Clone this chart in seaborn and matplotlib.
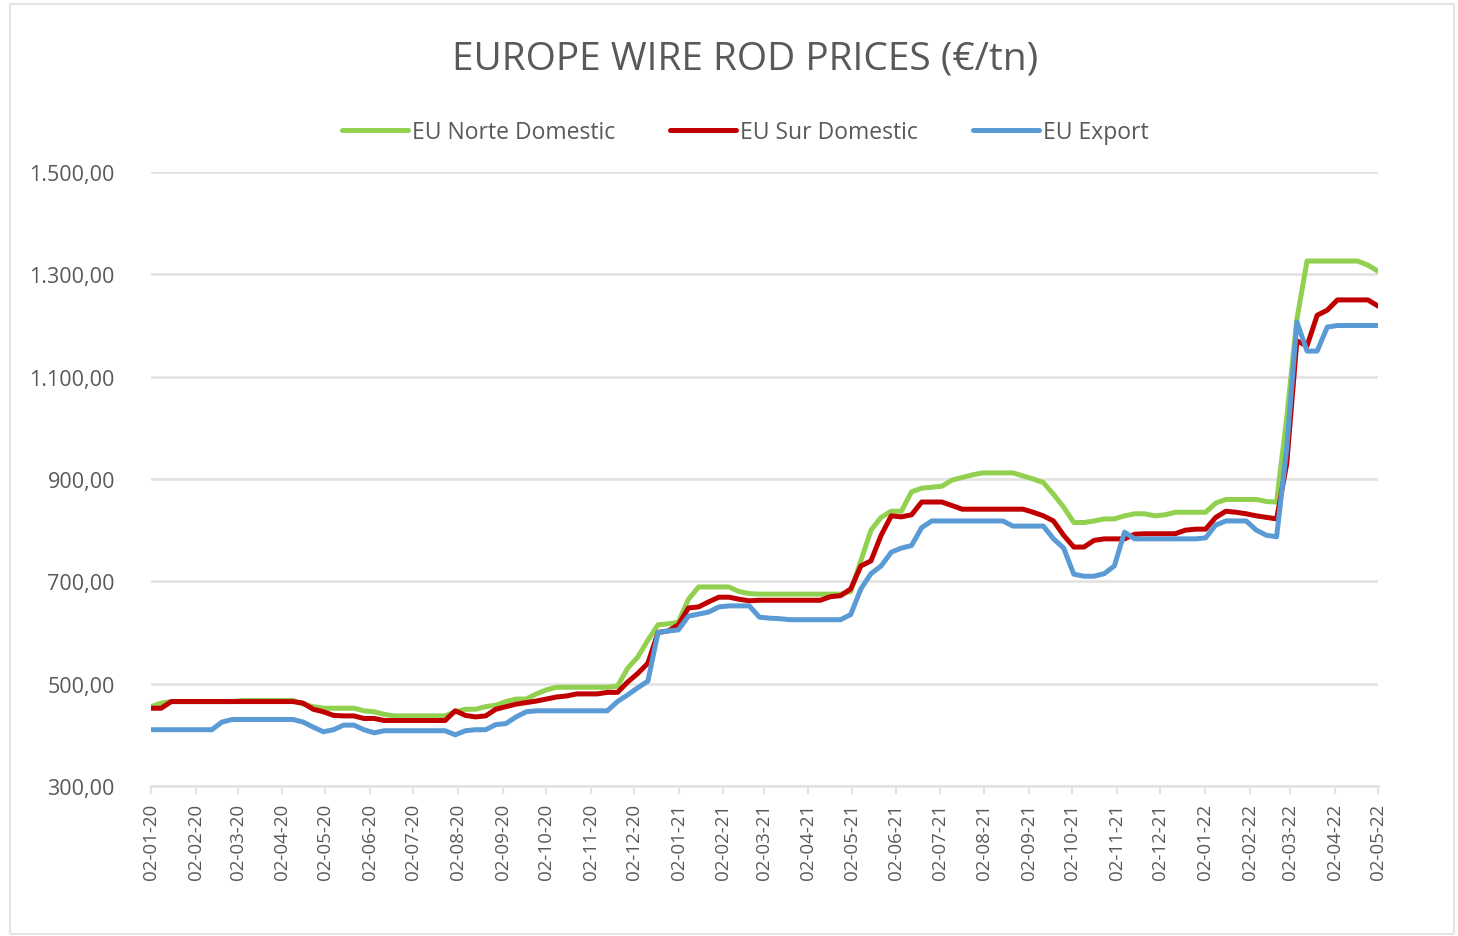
import matplotlib
matplotlib.use("Agg")
import matplotlib.pyplot as plt
import matplotlib.dates as mdates
from matplotlib.ticker import FuncFormatter, FixedLocator
from matplotlib.patches import Rectangle
import seaborn as sns
import pandas as pd

# weekly-ish observations, Jan 2020 -> May 2022 (122 points)
norte = [455, 462, 465, 465, 465, 465, 465, 465, 465, 467, 467, 467, 467, 467, 467,
         460, 455, 452, 452, 452, 452, 447, 445, 440, 437, 437, 437, 437, 437, 437,
         445, 450, 450, 455, 458, 465, 470, 470, 480, 488, 493, 493, 493, 493, 493,
         493, 495, 530, 552, 585, 615, 617, 620, 665, 689, 689, 689, 689, 680, 676,
         675, 675, 675, 675, 675, 675, 675, 675, 675, 680, 740, 800, 825, 837, 837,
         875, 882, 884, 886, 898, 903, 908, 912, 912, 912, 912, 906, 900, 893, 870,
         845, 815, 815, 818, 822, 822, 828, 832, 832, 828, 830, 835, 835, 835, 835,
         853, 860, 860, 860, 860, 856, 855, 1020, 1212, 1326, 1326, 1326, 1326, 1326, 1326,
         1318, 1306]
sur = [452, 452, 465, 465, 465, 465, 465, 465, 465, 465, 465, 465, 465, 465, 465,
       462, 450, 445, 438, 437, 437, 432, 432, 428, 428, 428, 428, 428, 428, 428,
       447, 438, 435, 437, 450, 455, 460, 463, 466, 470, 474, 476, 480, 480, 480,
       483, 483, 503, 520, 540, 600, 603, 615, 648, 650, 660, 669, 669, 665, 662,
       663, 663, 663, 663, 663, 663, 663, 670, 672, 685, 730, 740, 790, 828, 826,
       830, 855, 855, 855, 848, 841, 841, 841, 841, 841, 841, 841, 835, 828, 818,
       790, 767, 767, 780, 783, 783, 783, 792, 793, 793, 793, 793, 800, 802, 802,
       825, 837, 835, 832, 828, 825, 822, 930, 1170, 1160, 1220, 1230, 1250, 1250, 1250,
       1250, 1238]
export = [410, 410, 410, 410, 410, 410, 410, 425, 430, 430, 430, 430, 430, 430, 430,
          425, 415, 406, 410, 419, 419, 410, 404, 408, 408, 408, 408, 408, 408, 408,
          400, 408, 410, 410, 420, 422, 435, 445, 447, 447, 447, 447, 447, 447, 447,
          447, 465, 478, 492, 505, 600, 603, 605, 632, 636, 640, 650, 652, 652, 652,
          630, 628, 627, 625, 625, 625, 625, 625, 625, 635, 685, 715, 730, 757, 765,
          770, 805, 818, 818, 818, 818, 818, 818, 818, 818, 808, 808, 808, 808, 783,
          765, 714, 710, 710, 715, 730, 796, 783, 783, 783, 783, 783, 783, 783, 785,
          810, 818, 818, 818, 800, 790, 787, 960, 1207, 1150, 1150, 1197, 1200, 1200, 1200,
          1200, 1200]
series_names = ["EU Norte Domestic", "EU Sur Domestic", "EU Export"]
series_colors = ["#92D050", "#C00000", "#5B9BD5"]
y_ticks = [300, 500, 700, 900, 1100, 1300, 1500]

dates = pd.date_range("2020-01-02", "2022-05-02", periods=len(norte))
month_ticks = pd.date_range("2020-01-01", "2022-05-01", freq="MS") + pd.Timedelta(days=1)

frames = []
for name, vals in zip(series_names, [norte, sur, export]):
    frames.append(pd.DataFrame({"date": dates, "price": vals, "series": name}))
df = pd.concat(frames, ignore_index=True)

sns.set_theme(style="white")
plt.rcParams["font.family"] = ["Open Sans", "DejaVu Sans"]

fig = plt.figure(figsize=(14.58, 9.37), dpi=100)
ax = fig.add_axes([151 / 1458, 150 / 937, 1227 / 1458, 614 / 937])

sns.lineplot(data=df, x="date", y="price", hue="series", hue_order=series_names,
             palette=series_colors, linewidth=3.6, ax=ax, legend=False)

grey = "#595959"
ax.set_xlim(dates[0], dates[-1])
ax.set_ylim(300, 1500)
ax.yaxis.set_major_locator(FixedLocator(y_ticks))
ax.yaxis.set_major_formatter(FuncFormatter(
    lambda v, p: f"{v:,.2f}".replace(",", "X").replace(".", ",").replace("X", ".")))
ax.grid(axis="y", color="#E3E3E3", linewidth=2)
ax.set_axisbelow(True)
for side in ["top", "right", "left"]:
    ax.spines[side].set_visible(False)
ax.spines["bottom"].set_color("#E3E3E3")
ax.spines["bottom"].set_linewidth(2)

ax.set_xticks(month_ticks)
ax.xaxis.set_major_formatter(mdates.DateFormatter("%d-%m-%y"))
ax.tick_params(axis="x", rotation=90, labelsize=13.5, colors=grey, length=6,
               width=1.5, color="#E3E3E3", pad=6, bottom=True)
ax.tick_params(axis="y", labelsize=15.5, colors=grey, length=0, pad=26)
ax.set_xlabel("")
ax.set_ylabel("")

fig.text(0.511, 0.936, "EUROPE WIRE ROD PRICES (€/tn)", ha="center", va="center",
         fontsize=28, color=grey)

handles = [plt.Line2D([], [], color=c, linewidth=3.6) for c in series_colors]
fig.legend(handles, series_names, loc="center", bbox_to_anchor=(0.511, 0.858), ncol=3,
           frameon=False, fontsize=16.5, labelcolor=grey, handlelength=2.9,
           handletextpad=0.15, columnspacing=2.4)

fig.patches.append(Rectangle((10 / 1458, 2 / 937), 1444 / 1458, 930 / 937,
                             transform=fig.transFigure, fill=False,
                             edgecolor="#E6E6E6", linewidth=1.5))

fig.savefig("out.png", dpi=100)
